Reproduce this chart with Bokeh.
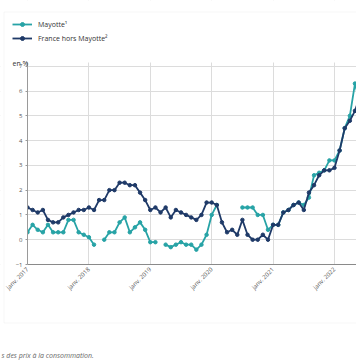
from math import pi
import numpy as np
from bokeh.plotting import figure
from bokeh.models import (ColumnDataSource, Legend, LegendItem, Label,
                          BoxAnnotation, FixedTicker, Range1d)
from bokeh.embed import file_html
from bokeh.resources import INLINE

# ---- data (year-on-year CPI change, %), monthly from janv. 2017 ----
mayotte = [
    0.3, 0.6, 0.4, 0.3, 0.6, 0.3, 0.3, 0.3, 0.8, 0.8, 0.3, 0.2,      # 2017
    0.1, -0.2, None, 0.0, 0.3, 0.3, 0.7, 0.9, 0.3, 0.5, 0.7, 0.4,    # 2018
    -0.1, -0.1, None, -0.2, -0.3, -0.2, -0.1, -0.2, -0.2, -0.4, -0.2, 0.2,  # 2019
    1.0, 1.4, None, None, None, None, 1.3, 1.3, 1.3, 1.0, 1.0, 0.4,  # 2020
    0.6, 0.6, 1.1, 1.2, 1.4, 1.5, 1.4, 1.7, 2.6, 2.7, 2.8, 3.2,      # 2021
    3.2, 3.6, 4.5, 5.0, 6.3, 5.5,                                    # 2022
]
france = [
    1.3, 1.2, 1.1, 1.2, 0.8, 0.7, 0.7, 0.9, 1.0, 1.1, 1.2, 1.2,      # 2017
    1.3, 1.2, 1.6, 1.6, 2.0, 2.0, 2.3, 2.3, 2.2, 2.2, 1.9, 1.6,      # 2018
    1.2, 1.3, 1.1, 1.3, 0.9, 1.2, 1.1, 1.0, 0.9, 0.8, 1.0, 1.5,      # 2019
    1.5, 1.4, 0.7, 0.3, 0.4, 0.2, 0.8, 0.2, 0.0, 0.0, 0.2, 0.0,      # 2020
    0.6, 0.6, 1.1, 1.2, 1.4, 1.5, 1.2, 1.9, 2.2, 2.6, 2.8, 2.8,      # 2021
    2.9, 3.6, 4.5, 4.8, 5.2, 5.8,                                    # 2022
]
tick_months = [0, 12, 24, 36, 48, 60]
tick_labels = ["janv. 2017", "janv. 2018", "janv. 2019",
               "janv. 2020", "janv. 2021", "janv. 2022"]
y_ticks = [-1, 0, 1, 2, 3, 4, 5, 6, 7]
series_names = ["Mayotte¹", "France hors Mayotte²"]
unit_text = "en %"
source_text = "s des prix à la consommation."

TEAL = "#27a3a6"
NAVY = "#1f3a68"
FONT = "Open Sans"
W, H = 356, 364

# plotting area: x from janv. 2017 (x=0) to ~mai 2022, y from -1 to 7.15
X0, X1 = 0.0, 64.3
Y0, Y1 = -1.0, 7.15
AX_LEFT, AX_TOP, AX_BOTTOM = 27, 62, 264          # pixel edges of the chart area
px_x = (W - AX_LEFT) / (X1 - X0)
px_y = (AX_BOTTOM - AX_TOP) / (Y1 - Y0)

months = list(range(len(france)))
src_m = ColumnDataSource(dict(x=months,
                              y=[np.nan if v is None else v for v in mayotte]))
src_f = ColumnDataSource(dict(x=months, y=france))

p = figure(width=W, height=H, output_backend="svg", toolbar_location=None,
           x_range=Range1d(X0 - AX_LEFT / px_x, X1),
           y_range=Range1d(Y0 - (H - AX_BOTTOM) / px_y, Y1 + AX_TOP / px_y),
           min_border_left=0, min_border_right=0, min_border_top=0,
           min_border_bottom=0)
p.outline_line_color = None
p.background_fill_color = "white"
p.border_fill_color = "white"

# grid
p.xgrid.ticker = FixedTicker(ticks=tick_months)
p.ygrid.ticker = FixedTicker(ticks=y_ticks)
p.xgrid.grid_line_color = "#dcdcdc"
p.ygrid.grid_line_color = "#dcdcdc"

# white masks so the grid stays inside the chart area
for kw in (dict(bottom=Y1), dict(top=Y0), dict(right=X0)):
    p.add_layout(BoxAnnotation(fill_color="white", fill_alpha=1,
                               line_color=None, level="glyph", **kw))

# axes, pinned to janv. 2017 and -1
p.xaxis.fixed_location = Y0
p.yaxis.fixed_location = X0
p.xaxis.bounds = (X0, X1)
p.yaxis.bounds = (Y0, Y1)

p.xaxis.ticker = FixedTicker(ticks=tick_months)
p.xaxis.major_label_overrides = {m: l for m, l in zip(tick_months, tick_labels)}
p.xaxis.major_label_orientation = pi / 4
p.xaxis.axis_line_color = "#8a8a8a"
p.xaxis.major_tick_out = 0
p.xaxis.major_tick_in = 0
p.xaxis.minor_tick_line_color = None
p.xaxis.major_label_standoff = 4
p.xaxis.major_label_text_font = FONT
p.xaxis.major_label_text_font_size = "6px"
p.xaxis.major_label_text_color = "#555555"

p.yaxis.ticker = FixedTicker(ticks=y_ticks)
p.yaxis.axis_line_color = "#9a9a9a"
p.yaxis.major_tick_out = 2
p.yaxis.major_tick_in = 0
p.yaxis.major_tick_line_color = "#9a9a9a"
p.yaxis.minor_tick_line_color = None
p.yaxis.major_label_standoff = 3
p.yaxis.major_label_text_font = FONT
p.yaxis.major_label_text_font_size = "6px"
p.yaxis.major_label_text_color = "#555555"

# series
lm = p.line("x", "y", source=src_m, line_color=TEAL, line_width=1.8)
cm = p.scatter("x", "y", source=src_m, size=3.5, fill_color=TEAL, line_color=TEAL)
lf = p.line("x", "y", source=src_f, line_color=NAVY, line_width=1.8)
cf = p.scatter("x", "y", source=src_f, size=3.5, fill_color=NAVY, line_color=NAVY)

# outer panel border (right side runs off the picture, as in the original)
p.add_layout(BoxAnnotation(left=3.5, right=W + 20, top=H - 11.5, bottom=H - 322.5,
                           left_units="screen", right_units="screen",
                           top_units="screen", bottom_units="screen",
                           fill_alpha=0, line_color="#e0e0e0", line_width=1))

# legend
leg = Legend(items=[LegendItem(label=series_names[0], renderers=[lm, cm]),
                    LegendItem(label=series_names[1], renderers=[lf, cf])],
             location=(12, H - 43), orientation="vertical",
             glyph_width=20, glyph_height=10, label_height=10,
             label_standoff=6, spacing=4, padding=0, margin=0,
             border_line_color=None, background_fill_alpha=0,
             label_text_font=FONT, label_text_font_size="7px",
             label_text_color="#333333")
p.add_layout(leg, "center")

# unit label
p.add_layout(Label(x=12, y=H - 62.5, x_units="screen", y_units="screen",
                   text=unit_text, text_font=FONT, text_font_size="7px",
                   text_color="#333333", text_baseline="middle"))

# source note
p.add_layout(Label(x=1, y=H - 355, x_units="screen", y_units="screen",
                   text=source_text, text_font=FONT, text_font_size="7px",
                   text_font_style="italic", text_color="#666666",
                   text_baseline="middle"))

open("out.html", "w").write(file_html(p, INLINE))
